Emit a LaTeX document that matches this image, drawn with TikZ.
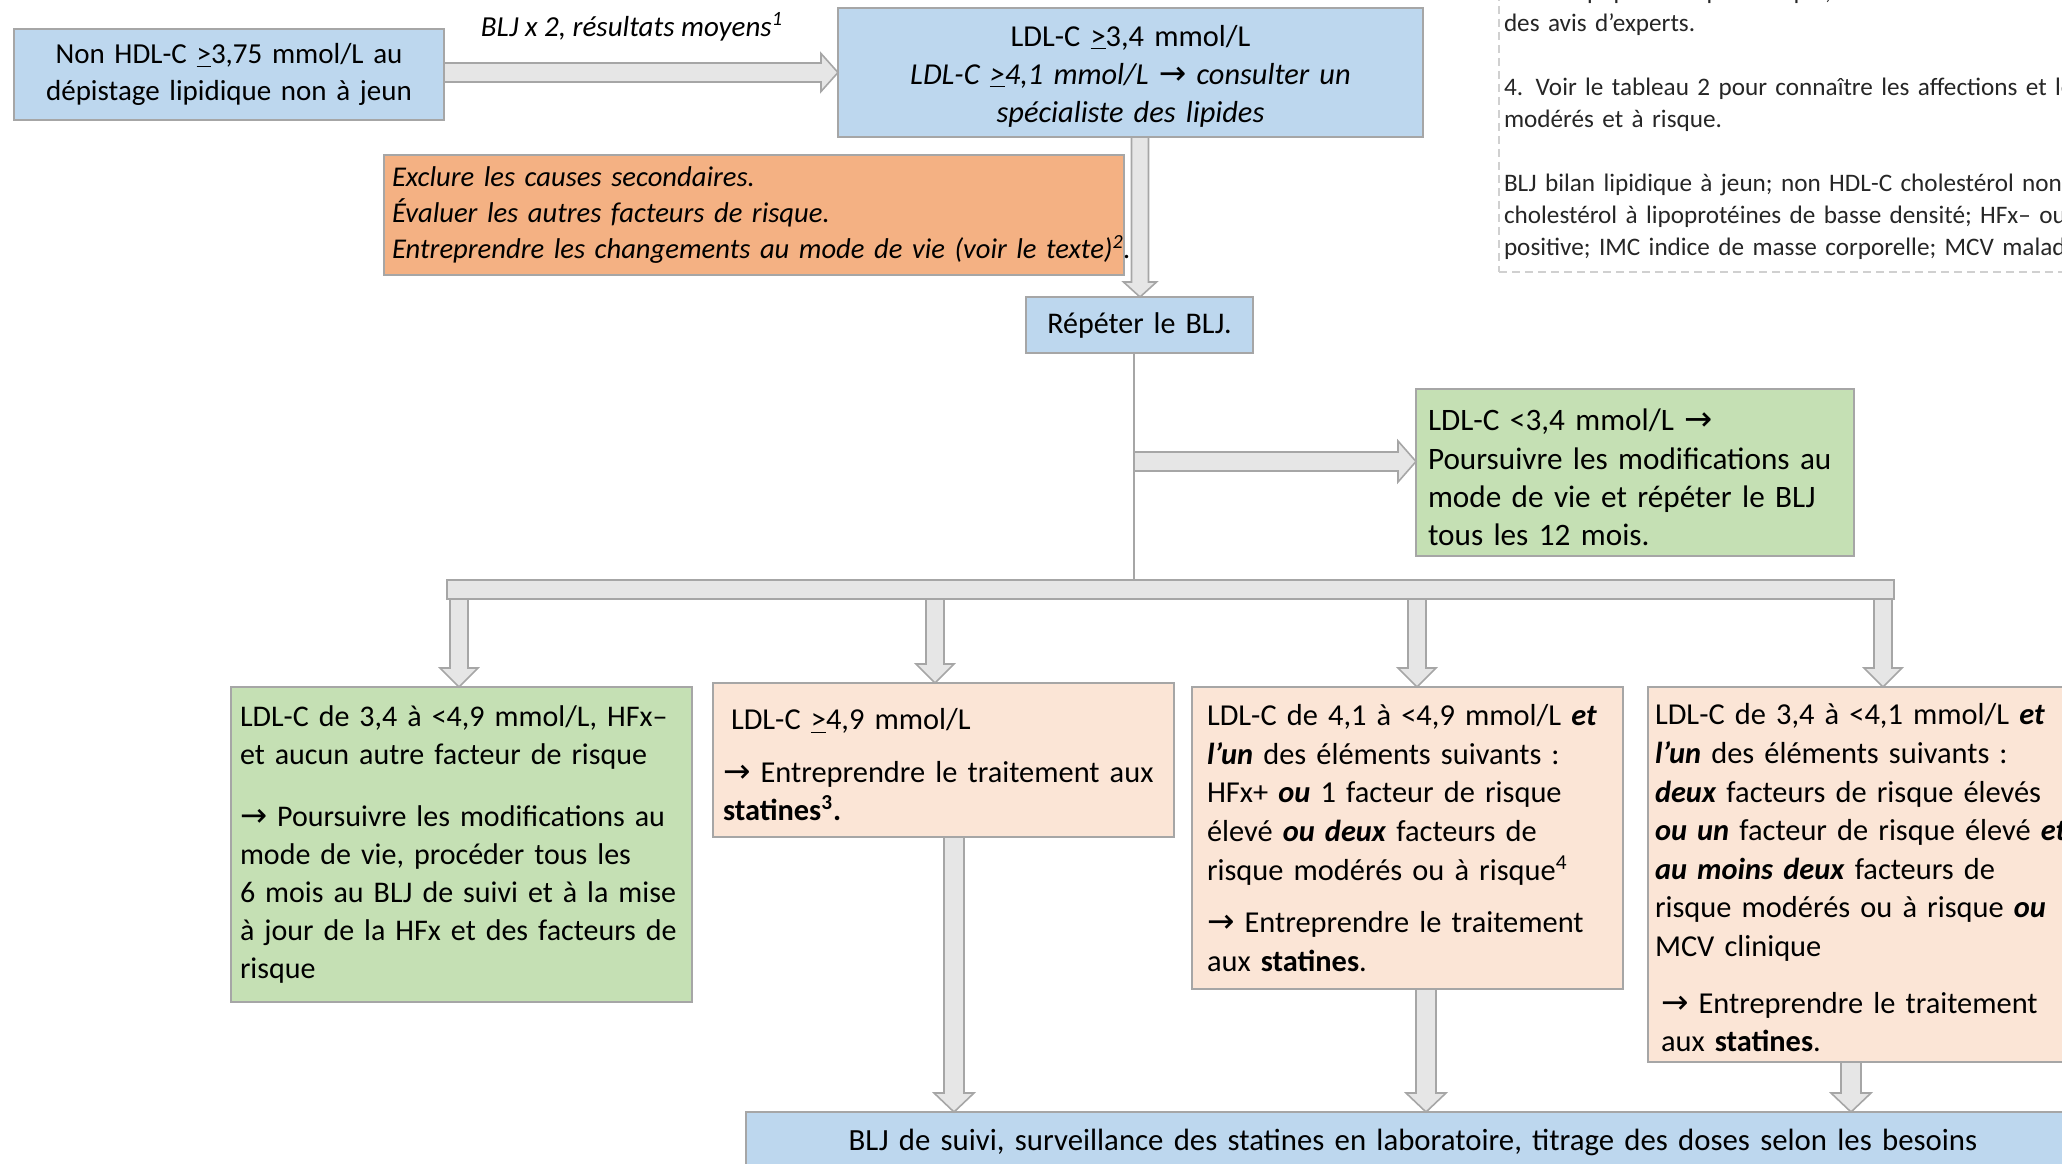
\documentclass[tikz,border=0pt]{standalone}
\usepackage{fontspec}
\setmainfont{Carlito}
\newfontfamily\symf[Scale=1.08]{DejaVu Sans}
\usetikzlibrary{calc}
\definecolor{bfill}{HTML}{BDD7EE}
\definecolor{gfill}{HTML}{C5E0B4}
\definecolor{ofill}{HTML}{F4B183}
\definecolor{pfill}{HTML}{FBE5D6}
\definecolor{afill}{HTML}{E6E6E6}
\definecolor{bord}{HTML}{A6A6A6}
\definecolor{dashc}{HTML}{D0D0D0}
\newcommand\ar{{\symf →}}
\newcommand\bi[1]{\textbf{\textit{#1}}}
\newcommand\gtu{\underline{>}}
\begin{document}
\begin{tikzpicture}[x=0.5pt,y=-0.5pt,
  bx/.style={draw=bord,line width=1pt,anchor=north west,inner ysep=0pt,outer sep=0pt},
  blk/.style={draw=bord,fill=afill,line width=0.8pt,line join=miter},
  varr/.style n args={3}{blk,to path={let \p1=(\tikztostart),\p2=(\tikztotarget) in
     (\x1-#1,\y1) -- (\x1-#1,\y2+#3) -- (\x1-#2,\y2+#3) -- (\x1,\y2) -- (\x1+#2,\y2+#3) -- (\x1+#1,\y2+#3) -- (\x1+#1,\y1) -- cycle}},
  harr/.style n args={3}{blk,to path={let \p1=(\tikztostart),\p2=(\tikztotarget) in
     (\x1,\y1-#1) -- (\x2-#3,\y1-#1) -- (\x2-#3,\y1-#2) -- (\x2,\y1) -- (\x2-#3,\y1+#2) -- (\x2-#3,\y1+#1) -- (\x1,\y1+#1) -- cycle}},
  link/.style={draw=bord,line width=1pt}
]
\path[use as bounding box] (0,0) rectangle (2062,1163);
\clip (0,0) rectangle (2062,1163);

% notes box (cut off)
\node[draw=dashc,line width=1pt,dash pattern=on 4pt off 2.5pt,anchor=south west,inner xsep=2.5pt,inner ysep=6pt,
  text width=330pt,align=left,font=\fontsize{12.6}{16}\selectfont,text=black!85] (notes) at (1498,273)
 {\mbox{dans la population pédiatrique, les seuils de traitement}\\
  \mbox{des avis d’experts.}\\[16pt]
  \mbox{4. Voir le tableau 2 pour connaître les affections et les}\\
  \mbox{modérés et à risque.}\\[16pt]
  \mbox{BLJ bilan lipidique à jeun; non HDL-C cholestérol non}\\
  \mbox{cholestérol à lipoprotéines de basse densité; HFx– ou}\\
  \mbox{positive; IMC indice de masse corporelle; MCV maladie}};

\node[bx,fill=bfill,minimum width=215pt,minimum height=45.5pt,inner xsep=5pt,text width=205pt,align=center,
  font=\fontsize{14.5}{18.5}\selectfont] (b1) at (14,29)
 {\mbox{Non HDL-C \gtu3,75 mmol/L au}\\\mbox{dépistage lipidique non à jeun}};

\node[font=\fontsize{14.5}{17}\selectfont\itshape,inner sep=0pt] (lab) at (632,27) {BLJ x 2, résultats moyens\textsuperscript{1}};

\node[bx,fill=bfill,minimum width=292.5pt,minimum height=64.5pt,inner xsep=5pt,text width=282.5pt,align=center,
  font=\fontsize{15.2}{19}\selectfont] (ldl) at (838,8)
 {\mbox{\rule{0pt}{14pt}LDL-C \gtu3,4 mmol/L}\\\mbox{\itshape LDL-C \gtu4,1 mmol/L \ar{} consulter un}\\\mbox{\itshape spécialiste des lipides}};

\node[bx,fill=ofill,minimum width=370pt,minimum height=60pt,inner xsep=4pt,text width=362pt,align=left,
  font=\fontsize{14.3}{18}\selectfont\itshape] (ex) at (384,155)
 {\mbox{Exclure les causes secondaires.}\\
  \mbox{Évaluer les autres facteurs de risque.}\\
  \mbox{Entreprendre les changements au mode de vie (voir le texte)\textsuperscript{2}.}};

\node[bx,fill=bfill,minimum width=113.5pt,minimum height=28pt,inner xsep=3pt,text width=107.5pt,align=center,
  font=\fontsize{15}{18}\selectfont] (rep) at (1026,297) {\mbox{Répéter le BLJ.}};

\node[bx,fill=gfill,minimum width=219pt,minimum height=83.5pt,inner xsep=6pt,text width=207pt,align=left,
  font=\fontsize{15.6}{19.2}\selectfont] (g1) at (1416,389)
 {\mbox{\rule{0pt}{16pt}LDL-C <3,4 mmol/L \ar}\\
  \mbox{Poursuivre les modifications au}\\
  \mbox{mode de vie et répéter le BLJ}\\
  \mbox{tous les 12 mois.}};

\node[bx,fill=afill,minimum width=723.5pt,minimum height=9.5pt,inner sep=0pt,line width=0.8pt] (bar) at (447,580) {};

\node[bx,fill=gfill,minimum width=230.5pt,minimum height=157.5pt,inner xsep=4.5pt,text width=221.5pt,align=left,
  font=\fontsize{15}{19}\selectfont] (g2) at (231,687)
 {\mbox{LDL-C de 3,4 à <4,9 mmol/L, HFx–}\\
  \mbox{et aucun autre facteur de risque}\\[12pt]
  \mbox{\ar{} Poursuivre les modifications au}\\
  \mbox{mode de vie, procéder tous les}\\
  \mbox{6 mois au BLJ de suivi et à la mise}\\
  \mbox{à jour de la HFx et des facteurs de}\\
  \mbox{risque}};

\node[bx,fill=pfill,minimum width=230.5pt,minimum height=77pt,inner xsep=5pt,text width=220.5pt,align=left,
  font=\fontsize{15.2}{19}\selectfont] (p2) at (713,683)
 {\mbox{\rule{0pt}{15pt}\hspace*{4pt}LDL-C \gtu4,9 mmol/L}\\[7.5pt]
  \mbox{\ar{} Entreprendre le traitement aux}\\
  \mbox{\textbf{statines\textsuperscript{3}.}}};

\node[bx,fill=pfill,minimum width=215.5pt,minimum height=151pt,inner xsep=7.5pt,text width=200.5pt,align=left,
  font=\fontsize{15.2}{19.3}\selectfont] (p3) at (1192,687)
 {\mbox{LDL-C de 4,1 à <4,9 mmol/L \bi{et}}\\
  \mbox{\bi{l’un} des éléments suivants :}\\
  \mbox{HFx+ \bi{ou} 1 facteur de risque}\\
  \mbox{élevé \bi{ou deux} facteurs de}\\
  \mbox{risque modérés ou à risque\textsuperscript{4}}\\[7pt]
  \mbox{\ar{} Entreprendre le traitement}\\
  \mbox{aux \textbf{statines}.}};

\node[bx,fill=pfill,minimum width=240pt,minimum height=187.5pt,inner xsep=3.5pt,text width=233pt,align=left,
  font=\fontsize{15.2}{19.3}\selectfont] (p4) at (1648,687)
 {\mbox{\rule{0pt}{14pt}LDL-C de 3,4 à <4,1 mmol/L \bi{et}}\\
  \mbox{\bi{l’un} des éléments suivants :}\\
  \mbox{\bi{deux} facteurs de risque élevés}\\
  \mbox{\bi{ou un} facteur de risque élevé \bi{et}}\\
  \mbox{\bi{au moins deux} facteurs de}\\
  \mbox{risque modérés ou à risque \bi{ou}}\\
  \mbox{MCV clinique}\\[9pt]
  \mbox{\hspace*{3pt}\ar{} Entreprendre le traitement}\\
  \mbox{\hspace*{3pt}aux \textbf{statines}.}};

\node[bx,fill=bfill,minimum width=667pt,minimum height=30pt,inner xsep=5pt,text width=657pt,align=center,
  font=\fontsize{15.4}{19}\selectfont] (fin) at (746,1112)
 {\mbox{BLJ de suivi, surveillance des statines en laboratoire, titrage des doses selon les besoins}};

% helper coordinates
\coordinate (ya) at (0,72.5);
\coordinate (xv) at (1140,0);
\coordinate (xl) at (1134,0);
\coordinate (yc) at (0,461.5);
\coordinate (xa1) at (459,0);
\coordinate (xa2) at (935,0);
\coordinate (xa3) at (1417,0);
\coordinate (xa4) at (1883,0);
\coordinate (xb1) at (954,0);
\coordinate (xb2) at (1426,0);
\coordinate (xb3) at (1851,0);

% connectors
\draw[harr={4.75pt}{9.5pt}{8.5pt}] (b1.east |- ya) to (ldl.west |- ya);
\draw[varr={4.25pt}{8.25pt}{7.5pt}] (ldl.south -| xv) to (rep.north -| xv);
\draw[link] (rep.south -| xl) -- (bar.north -| xl);
\draw[harr={4.75pt}{10.25pt}{9pt}] (xl |- yc) to (g1.west |- yc);
\draw[varr={4.5pt}{9.5pt}{9.5pt}] (bar.south -| xa1) to (g2.north -| xa1);
\draw[varr={4.5pt}{9.5pt}{9.5pt}] (bar.south -| xa2) to (p2.north -| xa2);
\draw[varr={4.5pt}{9.5pt}{9.5pt}] (bar.south -| xa3) to (p3.north -| xa3);
\draw[varr={4.5pt}{9.5pt}{9.5pt}] (bar.south -| xa4) to (p4.north -| xa4);
\draw[varr={5pt}{10pt}{9.5pt}] (p2.south -| xb1) to (fin.north -| xb1);
\draw[varr={5pt}{10pt}{9.5pt}] (p3.south -| xb2) to (fin.north -| xb2);
\draw[varr={5pt}{10pt}{9.5pt}] (p4.south -| xb3) to (fin.north -| xb3);
\end{tikzpicture}
\end{document}
